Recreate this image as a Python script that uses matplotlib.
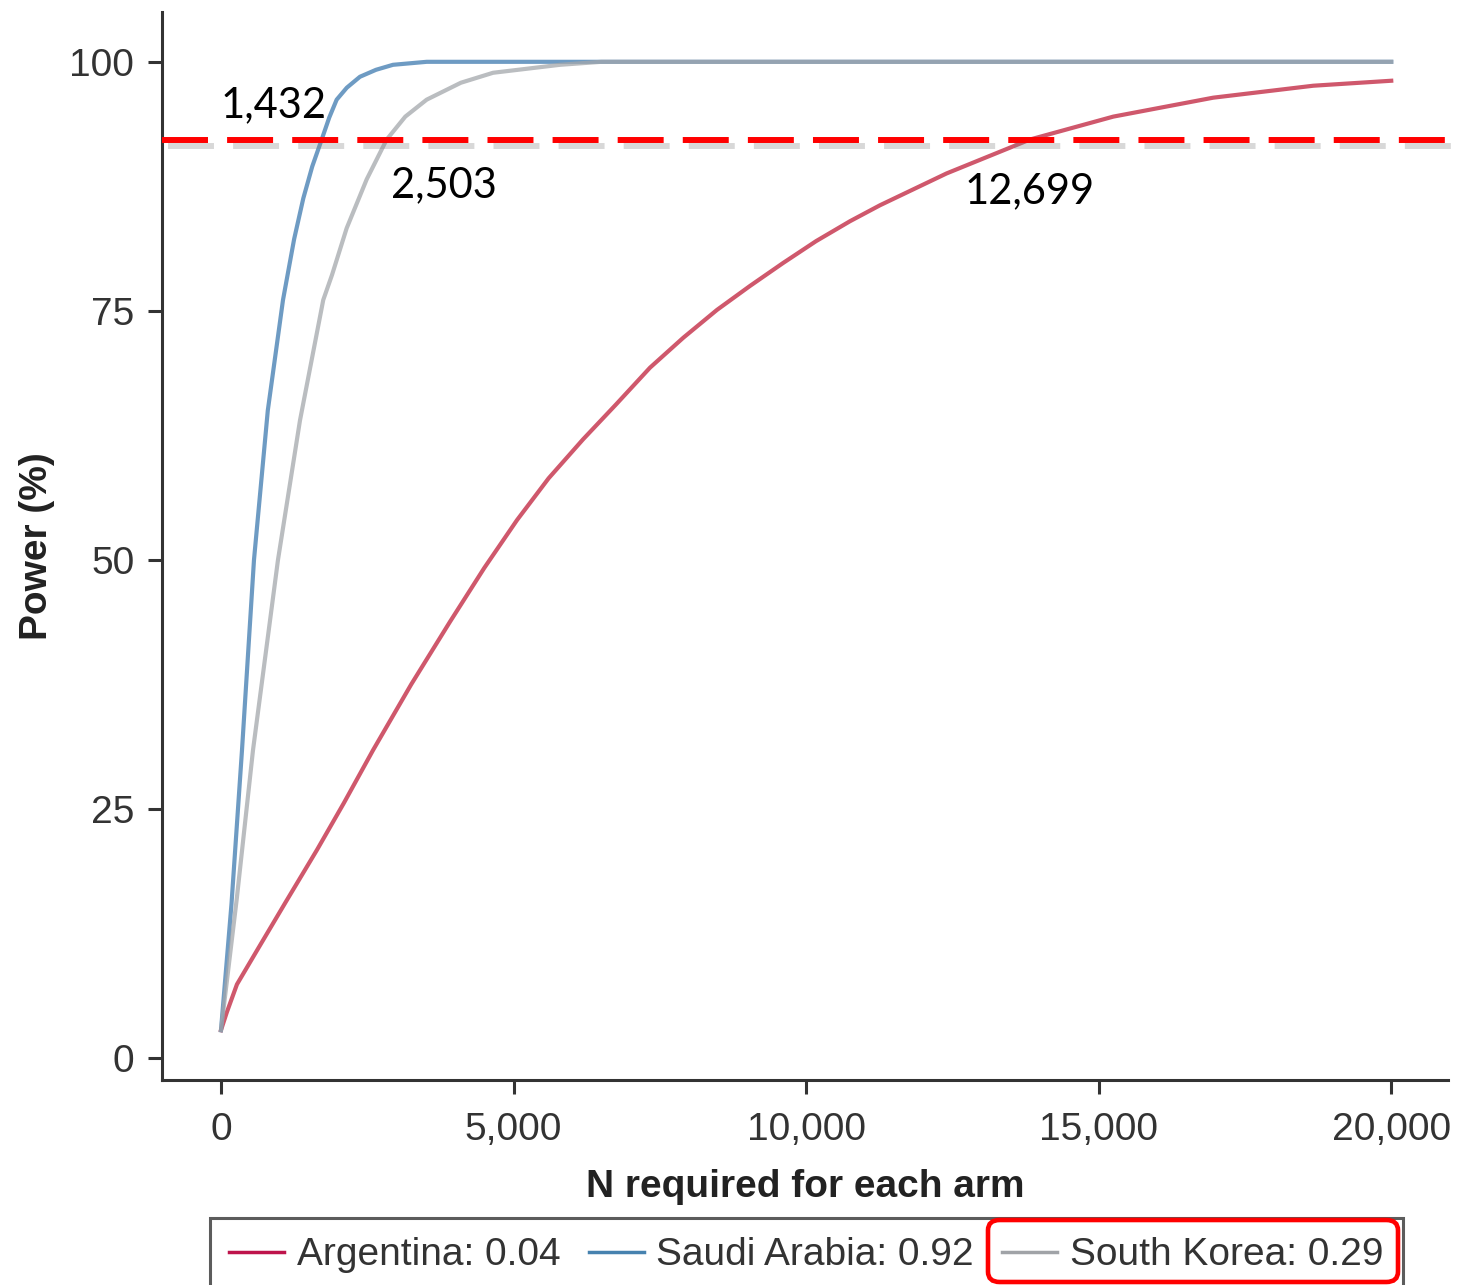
import matplotlib
matplotlib.use("Agg")
import matplotlib.pyplot as plt
import matplotlib.patheffects as pe
from matplotlib.lines import Line2D
from matplotlib.patches import FancyBboxPatch
from matplotlib.ticker import FuncFormatter

# values (N per arm, power %)
n_argentina = [0, 100, 273, 615, 1100, 1641, 2100, 2598, 3250, 3914, 4500, 5059,
               5600, 6187, 6750, 7332, 7900, 8477, 9040, 9605, 10170, 10750,
               11262, 12402, 13826, 15250, 16958, 18667, 20000]
p_argentina = [2.8, 4.6, 7.4, 10.8, 15.6, 20.9, 25.6, 30.9, 37.5, 43.8, 49.2, 54.0,
               58.2, 62.1, 65.6, 69.3, 72.3, 75.1, 77.5, 79.8, 82.0, 84.0,
               85.6, 88.8, 92.2, 94.5, 96.4, 97.6, 98.1]

n_saudi = [0, 180, 359, 564, 800, 1060, 1250, 1407, 1560, 1721, 1850, 1977,
           2150, 2375, 2650, 2940, 3515, 20000]
p_saudi = [2.8, 15.5, 30.9, 50.0, 65.0, 76.1, 82.2, 86.3, 89.5, 92.2, 94.4, 96.2,
           97.4, 98.5, 99.2, 99.7, 100, 100]

n_korea = [0, 270, 547, 974, 1350, 1748, 1897, 2148, 2490, 2832, 3150, 3515,
           4100, 4650, 5794, 6500, 20000]
p_korea = [2.8, 16.0, 30.9, 50.0, 64.0, 76.1, 78.6, 83.3, 88.2, 92.2, 94.5, 96.2,
           97.9, 98.9, 99.7, 100, 100]

legend_labels = ["Argentina: 0.04", "Saudi Arabia: 0.92", "South Korea: 0.29"]
threshold = 92.2
annot_text = ["1,432", "2,503", "12,699"]
annot_x = [0, 2905, 12700]
annot_y = [94.4, 86.4, 85.8]

x_ticks = [0, 5000, 10000, 15000, 20000]
y_ticks = [0, 25, 50, 75, 100]

plt.rcParams['font.family'] = ['Liberation Sans', 'DejaVu Sans']

W, H = 1458, 1285
fig = plt.figure(figsize=(W / 100, H / 100), dpi=100)
ax = fig.add_axes([162 / W, 1 - 1080 / H, (1448 - 162) / W, (1080 - 12) / H])

# curves (semi-transparent like the original)
ax.plot(n_argentina, p_argentina, color='#C0203B', lw=3, alpha=0.75)
ax.plot(n_saudi, p_saudi, color='#3E7AAF', lw=3, alpha=0.75)
ax.plot(n_korea, p_korea, color='#A3A7AB', lw=3, alpha=0.75)

ax.set_xlim(-1008, 20970)
ax.set_ylim(-2.2, 105)

# red dashed threshold, runs past the right edge of the axes
ax.plot([0, 1.0078], [threshold, threshold], transform=ax.get_yaxis_transform(),
        color='#FF0000', lw=4.3, dashes=(7.7, 3.2), clip_on=False, zorder=5,
        path_effects=[pe.SimpleLineShadow(offset=(4, -4.5), shadow_color='0.5', alpha=0.3),
                      pe.Normal()])

for txt, x, y in zip(annot_text, annot_x, annot_y):
    ax.text(x, y, txt, fontsize=30, family=['Lato', 'DejaVu Sans'], color='black',
            va='baseline', ha='left', zorder=6)

for side in ['top', 'right']:
    ax.spines[side].set_visible(False)
for side in ['left', 'bottom']:
    ax.spines[side].set_linewidth(2.2)
    ax.spines[side].set_color('#333333')

ax.set_xticks(x_ticks)
ax.set_yticks(y_ticks)
ax.xaxis.set_major_formatter(FuncFormatter(lambda v, p: f"{int(v):,}"))
ax.tick_params(axis='both', direction='out', length=10, width=2.2, color='#333333',
               labelsize=28, labelcolor='#333333')
ax.tick_params(axis='x', pad=13)
ax.tick_params(axis='y', pad=10)

ax.set_xlabel("N required for each arm", fontsize=28, fontweight='bold', color='#222222', labelpad=15)
ax.set_ylabel("Power (%)", fontsize=28, fontweight='bold', color='#222222', labelpad=10)

# legend below the plot (cut off at the bottom like the source)
handles = [Line2D([], [], color=c, lw=2.5) for c in ['#BE144B', '#4682AF', '#A0A3A7']]
leg = fig.legend(handles, legend_labels, loc='upper left', ncol=3,
                 bbox_to_anchor=(210 / W, 1 - 1218 / H), borderaxespad=0,
                 fontsize=28, handlelength=1.41, handletextpad=0.33, columnspacing=0.72,
                 borderpad=0.5, frameon=True, fancybox=False)
leg.get_frame().set_edgecolor('#333333')
leg.get_frame().set_linewidth(2.2)
for t in leg.get_texts():
    t.set_color('#333333')

# red rounded highlight round the South Korea entry
box = FancyBboxPatch((988 / W, 1 - 1282 / H), (1398 - 988) / W, (1282 - 1220) / H,
                     boxstyle="round,pad=0,rounding_size=0.008", transform=fig.transFigure,
                     facecolor='none', edgecolor='#FF0000', lw=3.3, zorder=10)
fig.patches.append(box)

fig.savefig("out.png", dpi=100)
